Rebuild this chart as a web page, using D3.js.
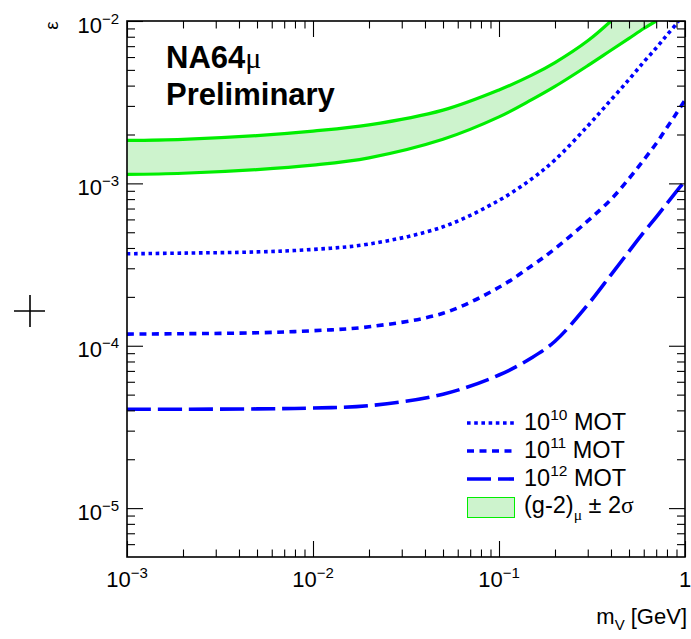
<!DOCTYPE html>
<html>
<head>
<meta charset="utf-8">
<script src="https://cdn.jsdelivr.net/npm/d3@7"></script>
<style>
  html, body { margin: 0; padding: 0; background: #fff; }
  svg { display: block; font-family: "Liberation Sans", Arial, sans-serif; }
</style>
</head>
<body>
<svg id="chart" width="691" height="639"></svg>
<script>
// Vector mass grid [GeV] and coupling limits for each MOT projection
const massGrid = [0.001, 0.002, 0.005, 0.01, 0.02, 0.05, 0.1, 0.15, 0.2, 0.3, 0.4, 0.5, 0.6, 0.7, 0.8, 0.9, 1.0];
const mot10Mass = [0.001, 0.002, 0.005, 0.01, 0.02, 0.05, 0.1, 0.15, 0.2, 0.3, 0.4, 0.5, 0.6, 0.7, 0.8, 0.9, 0.92];
const mot10Eps = [3.684e-4, 3.72e-4, 3.783e-4, 3.92e-4, 4.23e-4, 5.40e-4, 7.86e-4, 1.066e-3, 1.395e-3, 2.258e-3, 3.265e-3, 4.365e-3, 5.593e-3, 6.82e-3, 8.2e-3, 9.625e-3, 1.0e-2];
const mot11Eps = [1.18e-4, 1.186e-4, 1.202e-4, 1.237e-4, 1.309e-4, 1.585e-4, 2.291e-4, 3.11e-4, 3.958e-4, 5.869e-4, 7.97e-4, 1.07e-3, 1.395e-3, 1.76e-3, 2.208e-3, 2.701e-3, 3.255e-3];
const mot12Eps = [4.066e-5, 4.066e-5, 4.083e-5, 4.136e-5, 4.273e-5, 5.029e-5, 6.602e-5, 8.436e-5, 1.066e-4, 1.788e-4, 2.735e-4, 3.815e-4, 4.994e-4, 6.194e-4, 7.53e-4, 8.917e-4, 1.036e-3];

// (g-2)_mu +/- 2 sigma band edges
const g2UpperMass = [0.001, 0.002, 0.005, 0.01, 0.02, 0.05, 0.1, 0.15, 0.2, 0.3, 0.4];
const g2UpperEps = [1.839e-3, 1.868e-3, 1.969e-3, 2.098e-3, 2.291e-3, 2.826e-3, 3.762e-3, 4.64e-3, 5.546e-3, 7.553e-3, 1.0e-2];
const g2LowerMass = [0.001, 0.002, 0.005, 0.01, 0.02, 0.05, 0.1, 0.15, 0.2, 0.3, 0.4, 0.5, 0.6, 0.7];
const g2LowerEps = [1.136e-3, 1.154e-3, 1.216e-3, 1.296e-3, 1.437e-3, 1.868e-3, 2.566e-3, 3.275e-3, 3.953e-3, 5.307e-3, 6.602e-3, 7.816e-3, 8.99e-3, 1.0e-2];

// Axis decades
const xMajorTicks = [1e-3, 1e-2, 1e-1, 1];
const xMajorLabels = [["10", "−3"], ["10", "−2"], ["10", "−1"], ["1", ""]];
const yMajorTicks = [1e-5, 1e-4, 1e-3, 1e-2];
const yMajorLabels = [["10", "−5"], ["10", "−4"], ["10", "−3"], ["10", "−2"]];

const legendLabels = [
  { base: "10", sup: "10", rest: " MOT" },
  { base: "10", sup: "11", rest: " MOT" },
  { base: "10", sup: "12", rest: " MOT" }
];

const svg = d3.select("#chart");
const L = 127, R = 685, T = 21, B = 557;

const x = d3.scaleLog().domain([1e-3, 1]).range([L, R]);
const y = d3.scaleLog().domain([5e-6, 1e-2]).range([B, T]);

const minorTicks = (lo, hi) => {
  const out = [];
  for (let e = Math.floor(Math.log10(lo)); e <= Math.ceil(Math.log10(hi)); e++) {
    for (let k = 2; k <= 9; k++) {
      const v = k * Math.pow(10, e);
      if (v > lo * 1.0001 && v < hi * 0.9999) out.push(v);
    }
  }
  return out;
};
const xMinor = minorTicks(1e-3, 1);
const yMinor = minorTicks(5e-6, 1e-2);

svg.append("defs").append("clipPath").attr("id", "plotClip")
  .append("rect").attr("x", L).attr("y", T).attr("width", R - L).attr("height", B - T);

const plot = svg.append("g").attr("clip-path", "url(#plotClip)");

const lineGen = d3.line().curve(d3.curveCatmullRom.alpha(0.5));

// g-2 band
const upperPts = g2UpperMass.map((m, i) => [x(m), y(g2UpperEps[i])]);
const lowerPts = g2LowerMass.map((m, i) => [x(m), y(g2LowerEps[i])]);
const upperPath = lineGen(upperPts);
const lowerPath = lineGen(lowerPts);
const lowerRev = lineGen(lowerPts.slice().reverse());
plot.append("path")
  .attr("d", upperPath + "L" + lowerRev.slice(1) + "Z")
  .attr("fill", "#cdf3cd").attr("stroke", "none");
plot.append("path").attr("d", upperPath).attr("fill", "none")
  .attr("stroke", "#00ee00").attr("stroke-width", 3.2);
plot.append("path").attr("d", lowerPath).attr("fill", "none")
  .attr("stroke", "#00ee00").attr("stroke-width", 3.2);

// MOT projections
const series = [
  { mass: mot10Mass, eps: mot10Eps, dash: "3.6,3.6" },
  { mass: massGrid, eps: mot11Eps, dash: "7,5.5" },
  { mass: massGrid, eps: mot12Eps, dash: "24,7" }
];
series.forEach(s => {
  plot.append("path")
    .attr("d", lineGen(s.mass.map((m, i) => [x(m), y(s.eps[i])])))
    .attr("fill", "none").attr("stroke", "#0000ff")
    .attr("stroke-width", 3.6).attr("stroke-dasharray", s.dash);
});

// Frame and ticks (ticks drawn inward)
const axes = svg.append("g").attr("class", "axes");
const styleAxis = g => {
  g.select(".domain").remove();
  g.selectAll(".tick line").attr("stroke", "#000").attr("stroke-width", 1.1);
  g.selectAll(".tick text").remove();
};
[[d3.axisBottom, B, -16, xMajorTicks], [d3.axisBottom, B, -7.5, xMinor],
 [d3.axisTop, T, -16, xMajorTicks], [d3.axisTop, T, -7.5, xMinor]].forEach(([fn, ty, len, vals]) => {
  axes.append("g").attr("transform", `translate(0,${ty})`)
    .call(fn(x).tickValues(vals).tickSize(len).tickFormat(""))
    .call(styleAxis);
});
[[d3.axisLeft, L, -16, yMajorTicks], [d3.axisLeft, L, -8, yMinor],
 [d3.axisRight, R, -16, yMajorTicks], [d3.axisRight, R, -8, yMinor]].forEach(([fn, tx, len, vals]) => {
  axes.append("g").attr("transform", `translate(${tx},0)`)
    .call(fn(y).tickValues(vals).tickSize(len).tickFormat(""))
    .call(styleAxis);
});
axes.append("rect").attr("x", L).attr("y", T).attr("width", R - L).attr("height", B - T)
  .attr("fill", "none").attr("stroke", "#000").attr("stroke-width", 1.6);

// Tick labels with exponents
const labelSize = 22, expSize = 15;
xMajorTicks.forEach((v, i) => {
  const t = svg.append("text").attr("x", x(v)).attr("y", 587)
    .attr("text-anchor", "middle").attr("font-size", labelSize);
  t.append("tspan").text(xMajorLabels[i][0]);
  if (xMajorLabels[i][1]) t.append("tspan").attr("dy", -9).attr("font-size", expSize).text(xMajorLabels[i][1]);
});
yMajorTicks.forEach((v, i) => {
  const t = svg.append("text").attr("x", 119).attr("y", y(v) + 11.5)
    .attr("text-anchor", "end").attr("font-size", labelSize);
  t.append("tspan").text(yMajorLabels[i][0]);
  t.append("tspan").attr("dy", -9).attr("font-size", expSize).text(yMajorLabels[i][1]);
});

// Axis titles
const xt = svg.append("text").attr("x", 687).attr("y", 624)
  .attr("text-anchor", "end").attr("font-size", labelSize);
xt.append("tspan").text("m");
xt.append("tspan").attr("dy", 6).attr("font-size", expSize).text("V");
xt.append("tspan").attr("dy", -6).text(" [GeV]");

svg.append("text").attr("transform", "translate(58,25.5) rotate(-90)")
  .attr("text-anchor", "middle").attr("font-size", 19).text("ε");

// Stray marker to the left of the frame
svg.append("path").attr("d", "M14,311H45M30,295V327")
  .attr("stroke", "#000").attr("stroke-width", 1.6).attr("fill", "none");

// Experiment label
const title = svg.append("text").attr("x", 166).attr("y", 68)
  .attr("font-size", 31).attr("font-weight", "bold");
title.append("tspan").text("NA64");
title.append("tspan").attr("font-family", "Liberation Serif, serif").attr("font-weight", "normal")
  .attr("font-size", 30).text("μ");
svg.append("text").attr("x", 166).attr("y", 105)
  .attr("font-size", 31).attr("font-weight", "bold").text("Preliminary");

// Legend
const lg = svg.append("g");
const legSize = 23.5, legExp = 15.5;
const rowY = [423, 451, 479];
series.forEach((s, i) => {
  lg.append("line").attr("x1", 467).attr("x2", 514).attr("y1", rowY[i]).attr("y2", rowY[i])
    .attr("stroke", "#0000ff").attr("stroke-width", 3.6).attr("stroke-dasharray", s.dash);
  const t = lg.append("text").attr("x", 524).attr("y", rowY[i] + 6.5).attr("font-size", legSize);
  t.append("tspan").text(legendLabels[i].base);
  t.append("tspan").attr("dy", -9.5).attr("font-size", legExp).text(legendLabels[i].sup);
  t.append("tspan").attr("dy", 9.5).text(legendLabels[i].rest);
});
lg.append("rect").attr("x", 467.5).attr("y", 497.5).attr("width", 47).attr("height", 20)
  .attr("fill", "#cdf3cd").attr("stroke", "#00ee00").attr("stroke-width", 1);
const gt = lg.append("text").attr("x", 524).attr("y", 513).attr("font-size", legSize);
gt.append("tspan").text("(g-2)");
gt.append("tspan").attr("dy", 7).attr("font-size", legExp).attr("font-family", "Liberation Serif, serif").text("μ");
gt.append("tspan").attr("dy", -7).text(" ± 2");
gt.append("tspan").attr("font-family", "Liberation Serif, serif").text("σ");
</script>
</body>
</html>
